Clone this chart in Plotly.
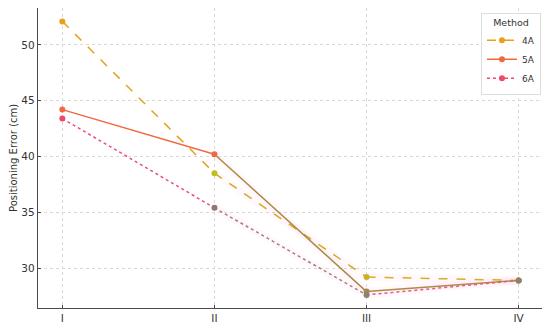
import plotly.graph_objects as go

categories = ["I", "II", "III", "IV"]
series_names = ["4A", "5A", "6A"]
values_4a = [52.1, 38.5, 29.2, 28.9]
values_5a = [44.2, 40.2, 27.9, 28.9]
values_6a = [43.4, 35.4, 27.6, 28.9]
y_title = "Positioning Error (cm)"
legend_title = "Method"

# per-segment colours (lines fade along their length in the original)
seg_colors = {
    "4A": ["#e8a018", "#d0ac1c", "#d4b020"],
    "5A": ["#f06a40", "#aa8a40", "#b08a48"],
    "6A": ["#e8507a", "#a88070", "#e0607a"],
}
marker_colors = {
    "4A": ["#e8a018", "#c0be20", "#c8b420", "#c8b420"],
    "5A": ["#f06a40", "#f06a40", "#a08850", "#a08850"],
    "6A": ["#f04a6a", "#907870", "#908070", "#908070"],
}
dashes = {"4A": "dash", "5A": "solid", "6A": "dot"}
base = {"4A": "#e8a018", "5A": "#f06a40", "6A": "#f04a6a"}
data = {"4A": values_4a, "5A": values_5a, "6A": values_6a}

# page body has an 8px margin, so the figure is sized/offset accordingly
W, H = 542, 319
ML, MR, MT, MB = 30, 7, 0, 19

fig = go.Figure()
# faint pink halo along the lower segments
for name in series_names:
    vals = data[name]
    fig.add_trace(go.Scatter(
        x=categories[1:], y=vals[1:], mode="lines",
        line=dict(color="rgba(255,170,220,0.07)", width=8),
        showlegend=False, hoverinfo="skip"))
for name in series_names:
    vals = data[name]
    for i in range(len(categories) - 1):
        fig.add_trace(go.Scatter(
            x=categories[i:i + 2], y=vals[i:i + 2], mode="lines",
            line=dict(color=seg_colors[name][i], width=1.5, dash=dashes[name]),
            showlegend=False, hoverinfo="skip", cliponaxis=False))
    fig.add_trace(go.Scatter(
        x=categories, y=vals, mode="markers",
        marker=dict(color=marker_colors[name], size=6),
        showlegend=False, cliponaxis=False))
    # legend entry
    fig.add_trace(go.Scatter(
        x=[None], y=[None], mode="lines+markers", name=name,
        line=dict(color=base[name], width=1.5, dash=dashes[name]),
        marker=dict(color=base[name], size=6)))

fig.update_layout(
    width=W, height=H,
    margin=dict(l=ML, r=MR, t=MT, b=MB),
    paper_bgcolor="white", plot_bgcolor="white",
    font=dict(family="DejaVu Sans", size=10, color="#333333"),
    legend=dict(
        title=dict(text=legend_title, font=dict(size=9.5, color="#333333"), side="top center"),
        font=dict(size=9, color="#333333"),
        x=0.996, y=0.985, xanchor="right", yanchor="top",
        bgcolor="rgba(255,255,255,0.85)", bordercolor="#dddddd", borderwidth=1,
        itemwidth=30, tracegroupgap=0,
    ),
    showlegend=True,
    annotations=[dict(
        text=y_title, textangle=-90, showarrow=False,
        xref="paper", yref="paper", x=-25 / (W - ML - MR), y=0.5,
        xanchor="center", yanchor="middle",
        font=dict(size=10, color="#333333"))],
)
fig.update_xaxes(
    type="category", categoryorder="array", categoryarray=categories,
    range=[-0.16, 3.16], automargin=False,
    showline=True, linecolor="#4a4a4a", linewidth=1.4,
    showgrid=True, gridcolor="#d8d8d8", griddash="dot", gridwidth=1,
    ticks="inside", ticklen=3, tickcolor="#4a4a4a",
    tickfont=dict(size=10.5, color="#333333"), mirror=False, zeroline=False,
)
fig.update_yaxes(
    range=[26.43, 53.3], tickvals=[30, 35, 40, 45, 50], automargin=False,
    showline=True, linecolor="#4a4a4a", linewidth=1.4,
    showgrid=True, gridcolor="#d8d8d8", griddash="dot", gridwidth=1,
    ticks="inside", ticklen=3, tickcolor="#4a4a4a",
    tickfont=dict(size=10.5, color="#333333"), zeroline=False,
)

fig.write_html("out.html")
